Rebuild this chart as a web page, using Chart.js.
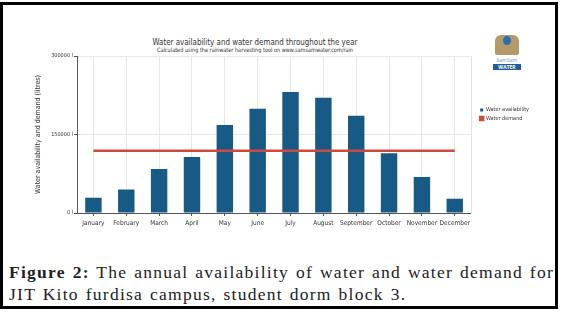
<!DOCTYPE html>
<html>
<head>
<meta charset="utf-8">
<script src="https://cdn.jsdelivr.net/npm/chart.js@4.4.0/dist/chart.umd.min.js"></script>
<style>
  body { margin: 0; width: 563px; height: 314px; background: #fff; position: relative; overflow: hidden; }
  #frame { position: absolute; left: 0; top: 2px; width: 558px; height: 307px; box-sizing: border-box; border: 3px solid #000; }
  #chartBox { position: absolute; left: 8px; top: 50px; width: 531px; height: 186px; }
  .ttl { position: absolute; left: 0; width: 510px; text-align: center; font-family: "Liberation Sans Narrow", "DejaVu Sans Condensed", "Open Sans", sans-serif; color: #333; white-space: nowrap; transform-origin: 255px 50%; }
  #title { top: 36px; font-size: 9.5px; transform: scaleX(0.83); }
  #subtitle { top: 46px; font-size: 6px; transform: scaleX(0.92); }
  #logo { position: absolute; left: 492px; top: 33px; width: 30px; height: 38px; }
  #caption { position: absolute; left: 9px; top: 261px; font-family: "Liberation Serif", "DejaVu Serif", serif; font-size: 17.5px; line-height: 22px; color: #222; white-space: nowrap; letter-spacing: 1.25px; word-spacing: 1.3px; }
</style>
</head>
<body>
<div id="frame"></div>
<div id="title" class="ttl">Water availability and water demand throughout the year</div>
<div id="subtitle" class="ttl">Calculated using the rainwater harvesting tool on www.samsamwater.com/rain</div>
<div id="logo">
  <div style="position:absolute;left:3px;top:2px;width:24px;height:20px;background:#b49a68;border-radius:6px 6px 2px 2px;"></div>
  <div style="position:absolute;left:11px;top:3px;width:8px;height:9px;background:#2a6db0;border-radius:50%;"></div>
  <div style="position:absolute;left:0;top:24px;width:30px;text-align:center;font:5px 'Open Sans',sans-serif;color:#6d9cc0;">SamSam</div>
  <div style="position:absolute;left:1px;top:31px;width:28px;height:6px;background:#1f5d9b;color:#fff;text-align:center;font:bold 5px/6px 'Open Sans',sans-serif;">WATER</div>
</div>
<div id="chartBox"><canvas id="myChart"></canvas></div>
<div id="caption"><b>Figure 2:</b> The annual availability of water and water demand for<br>JIT Kito furdisa campus, student dorm block 3.</div>
<script>
const months = ["January", "February", "March", "April", "May", "June", "July", "August", "September", "October", "November", "December"];
const availability = [29000, 45000, 84000, 107000, 168000, 199000, 231000, 220000, 186000, 114000, 69000, 27000];
const demand = [119000, 119000, 119000, 119000, 119000, 119000, 119000, 119000, 119000, 119000, 119000, 119000];
const yTicks = [0, 150000, 300000];

const font = "'Liberation Sans Narrow', 'DejaVu Sans Condensed', 'Open Sans', sans-serif";
const ctx = document.getElementById("myChart");

new Chart(ctx, {
  type: "bar",
  data: {
    labels: months,
    datasets: [
      {
        label: "Water availability",
        data: availability,
        backgroundColor: "#175a86",
        barPercentage: 0.5,
        categoryPercentage: 1,
        order: 1,
      },
      {
        type: "line",
        label: "Water demand",
        data: demand,
        borderColor: "#cc4b3e",
        backgroundColor: "#cc4b3e",
        borderWidth: 2.5,
        pointRadius: 0,
        order: 0,
      },
    ],
  },
  options: {
    responsive: true,
    maintainAspectRatio: false,
    animation: false,
    layout: { padding: { top: 6, right: 0, bottom: 0, left: 0 } },
    plugins: {
      tooltip: { enabled: false },
      legend: {
        position: "right",
        align: "start",
        title: { display: true, text: " ", font: { size: 6, family: font }, padding: { top: 41, bottom: 0 } },
        labels: {
          boxWidth: 3,
          boxHeight: 3,
          padding: 3,
          color: "#333",
          font: { size: 5.5, family: font },
          sort: (a, b) => a.datasetIndex - b.datasetIndex,
        },
      },
    },
    scales: {
      x: {
        grid: { offset: false, color: "#e8e8e8", tickColor: "#555", tickLength: 3 },
        border: { color: "#555" },
        ticks: { color: "#333", padding: 3, maxRotation: 0, autoSkip: false, font: { size: 6.5, family: font } },
        afterFit: (s) => { s.height = 23; },
      },
      y: {
        min: 0,
        max: 300000,
        afterBuildTicks: (s) => { s.ticks = yTicks.map((v) => ({ value: v })); },
        grid: { color: "#e8e8e8", tickColor: "#555", tickLength: 3 },
        border: { color: "#555" },
        ticks: { color: "#333", padding: 1, font: { size: 5.5, family: font }, callback: (v) => v + " l" },
        title: {
          display: true,
          text: "Water availability and demand (litres)",
          color: "#333",
          font: { size: 7, family: font },
          padding: { top: 26, bottom: 0 },
        },
        afterFit: (s) => { s.width = 69; },
      },
      yRight: {
        position: "right",
        min: 0,
        max: 300000,
        grid: { display: false, drawTicks: false },
        border: { display: true, color: "#e3e3e3" },
        ticks: { display: false },
        afterFit: (s) => { s.width = 6; },
      },
    },
  },
});
</script>
</body>
</html>
